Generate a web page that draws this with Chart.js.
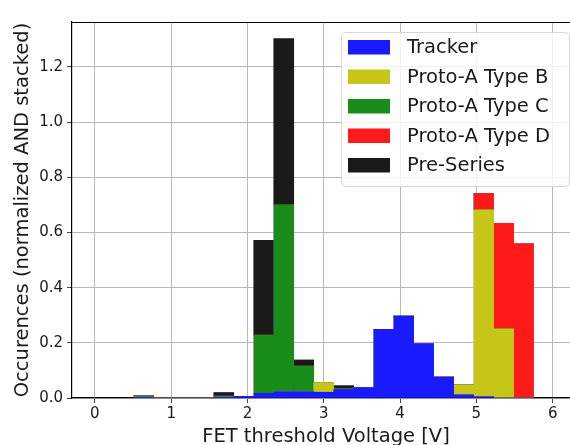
<!DOCTYPE html>
<html>
<head>
<meta charset="utf-8">
<script src="https://cdn.jsdelivr.net/npm/chart.js@4/dist/chart.umd.min.js"></script>
<style>
  html, body { margin: 0; padding: 0; background: #fff; overflow: hidden; }
  /* un peu plus large que la fenêtre : le bord droit des axes sort de l'image */
  #wrap { width: 580px; height: 445px; }
</style>
</head>
<body>
<div id="wrap"><canvas id="histo"></canvas></div>
<script>
// Centres des classes (largeur ~0.262 V)
const binCenters = [0.641, 0.903, 1.165, 1.427, 1.689, 1.951, 2.213, 2.475, 2.737, 2.999,
                    3.261, 3.523, 3.785, 4.047, 4.309, 4.571, 4.833, 5.095, 5.357, 5.619];

// Hauteurs empilées
const tracker   = [0.003, 0, 0, 0, 0.003, 0.006, 0.017, 0.023, 0.023, 0.021,
                   0.031, 0.038, 0.249, 0.297, 0.197, 0.076, 0.012, 0.005, 0, 0];
const typeB     = [0, 0, 0, 0, 0, 0, 0, 0, 0, 0.035,
                   0, 0, 0, 0, 0, 0, 0.036, 0.677, 0.251, 0];
const typeC     = [0.005, 0, 0, 0, 0.004, 0, 0.211, 0.677, 0.093, 0,
                   0.003, 0, 0, 0, 0, 0, 0, 0, 0, 0];
const typeD     = [0, 0, 0, 0, 0, 0, 0, 0, 0, 0,
                   0, 0, 0, 0, 0, 0, 0, 0.059, 0.382, 0.559];
const preSeries = [0, 0, 0, 0, 0.013, 0, 0.344, 0.603, 0.022, 0,
                   0.011, 0, 0, 0, 0, 0, 0, 0, 0, 0];

const seriesLabels = ['Tracker', 'Proto-A Type B', 'Proto-A Type C', 'Proto-A Type D', 'Pre-Series'];
const seriesColors = ['#1a1aff', '#c6c619', '#1a8c1a', '#ff1a1a', '#1a1a1a'];
const seriesValues = [tracker, typeB, typeC, typeD, preSeries];

const xTicks = [0, 1, 2, 3, 4, 5, 6];
const yTicks = [0, 0.2, 0.4, 0.6, 0.8, 1.0, 1.2];

const textColor = '#1a1a1a';
const gridColor = '#b8b8b8';

// Cadre haut (le bord droit sort de l'image)
const frame = {
  id: 'frame',
  afterDraw(chart) {
    const { ctx, chartArea } = chart;
    ctx.save();
    ctx.strokeStyle = '#000';
    ctx.lineWidth = 1.2;
    ctx.beginPath();
    ctx.moveTo(chartArea.left, chartArea.top + 0.5);
    ctx.lineTo(chartArea.right, chartArea.top + 0.5);
    ctx.stroke();
    ctx.restore();
  }
};

// Légende dans la zone du graphique, style matplotlib
const boxLegend = {
  id: 'boxLegend',
  afterDraw(chart) {
    const { ctx, chartArea } = chart;
    const w = 228, h = 154;
    const x = chartArea.right - 10 - w - 1, y = chartArea.top + 10;
    ctx.save();
    ctx.beginPath();
    ctx.roundRect(x + 0.5, y + 0.5, w, h, 4);
    ctx.fillStyle = 'rgba(255,255,255,0.8)';
    ctx.fill();
    ctx.strokeStyle = '#d6d6d6';
    ctx.lineWidth = 1;
    ctx.stroke();
    ctx.font = '19.5px "DejaVu Sans"';
    ctx.textBaseline = 'middle';
    chart.data.datasets.forEach((ds, i) => {
      const cy = y + 15 + i * 29.5;
      ctx.fillStyle = ds.backgroundColor;
      ctx.fillRect(x + 7, cy - 7, 42, 14.5);
      ctx.fillStyle = textColor;
      ctx.fillText(ds.label, x + 66, cy + 1);
    });
    ctx.restore();
  }
};

new Chart(document.getElementById('histo'), {
  type: 'bar',
  data: {
    datasets: seriesLabels.map((label, s) => ({
      label: label,
      data: binCenters.map((c, i) => ({ x: c, y: seriesValues[s][i] })),
      backgroundColor: seriesColors[s],
      borderWidth: 0,
      barPercentage: 1,
      categoryPercentage: 1
    }))
  },
  options: {
    responsive: true,
    maintainAspectRatio: false,
    animation: false,
    layout: { padding: { top: 22, right: 0, left: 0, bottom: 0 } },
    plugins: {
      legend: { display: false },
      tooltip: { enabled: false }
    },
    scales: {
      x: {
        type: 'linear',
        stacked: true,
        offset: false,
        min: -0.3,
        max: 6.358,
        z: 1,
        afterBuildTicks: axis => { axis.ticks = xTicks.map(v => ({ value: v })); },
        afterFit: axis => { axis.height = 47; },
        grid: { offset: false, color: gridColor, lineWidth: 1, tickLength: 5, tickColor: '#444' },
        border: { display: true, color: '#000', width: 1.2 },
        ticks: {
          includeBounds: false,
          padding: 2,
          color: textColor,
          font: { family: 'DejaVu Sans', size: 15 },
          maxRotation: 0
        },
        title: {
          display: true,
          text: 'FET threshold Voltage [V]',
          color: textColor,
          font: { family: 'DejaVu Sans', size: 19.5, lineHeight: 1 },
          padding: { top: 0, bottom: -2 }
        }
      },
      y: {
        stacked: true,
        min: 0,
        max: 1.363,
        z: 1,
        afterBuildTicks: axis => { axis.ticks = yTicks.map(v => ({ value: v })); },
        afterFit: axis => { axis.width = 72; },
        grid: { color: gridColor, lineWidth: 1, tickLength: 5, tickColor: '#444' },
        border: { display: true, color: '#000', width: 1.2 },
        ticks: {
          includeBounds: false,
          padding: 4,
          color: textColor,
          font: { family: 'DejaVu Sans', size: 15 },
          callback: v => v.toFixed(1)
        },
        title: {
          display: true,
          text: 'Occurences (normalized AND stacked)',
          color: textColor,
          font: { family: 'DejaVu Sans', size: 19.5, lineHeight: 1 },
          padding: { top: 13, bottom: 0 }
        }
      }
    }
  },
  plugins: [frame, boxLegend]
});
</script>
</body>
</html>
